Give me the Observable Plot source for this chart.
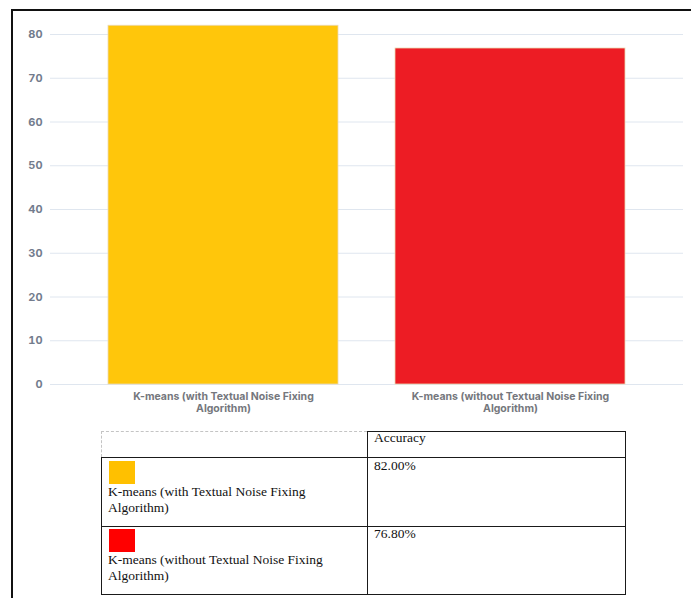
<!DOCTYPE html>
<html><head><meta charset="utf-8">
<script src="https://cdn.jsdelivr.net/npm/d3@7"></script>
<script src="https://cdn.jsdelivr.net/npm/@observablehq/plot@0.6"></script>
<style>
html,body{margin:0;padding:0;background:#fff;}
#wrap{position:relative;width:691px;height:598px;overflow:hidden;background:#fff;}
#wrap svg{position:absolute;left:0;top:0;}
#frame{position:absolute;left:11px;top:9px;width:700px;height:700px;border-top:2px solid #111;border-left:2px solid #111;pointer-events:none;}
.t{position:absolute;font-family:"Liberation Serif","Times New Roman",serif;font-size:13.5px;line-height:16.5px;color:#111;white-space:normal;}
.ln{position:absolute;background:#1a1a1a;}
.sw{position:absolute;width:26px;height:23px;}
</style></head><body><div id="wrap"></div>
<script>
// ---- data ----
const categories = ["K-means (with Textual Noise Fixing Algorithm)", "K-means (without Textual Noise Fixing Algorithm)"];
const accuracy = [82.0, 76.8];
const barColors = ["#FFC60B", "#ED1C24"];
const legendColors = ["#FFC000", "#FF0000"];
const yTicks = [0, 10, 20, 30, 40, 50, 60, 70, 80];
const tableHeader = "Accuracy";
const accuracyLabels = ["82.00%", "76.80%"];

const data = categories.map((c, i) => ({category: c, value: accuracy[i]}));

const chart = Plot.plot({
  width: 691, height: 420,
  marginLeft: 50, marginRight: 8, marginTop: 34, marginBottom: 36,
  style: {background: "transparent", fontFamily: "Inter, Roboto, sans-serif"},
  x: {domain: categories, padding: 0.2, label: null},
  y: {domain: [0, 80], label: null},
  color: {domain: categories, range: barColors},
  marks: [
    Plot.ruleY(yTicks, {stroke: "#dfe6ef", strokeOpacity: 1, strokeWidth: 1}),
    Plot.barY(data, {x: "category", y: "value", fill: "category", stroke: "#ead9b4", strokeWidth: 0.8}),
    Plot.axisY({ticks: yTicks, tickSize: 0, tickPadding: 8, fontSize: 11, fontWeight: 700, fill: "#737c8d"}),
    Plot.axisX({tickSize: 0, tickPadding: 7, fontSize: 10.5, fontWeight: 700, fill: "#75777d", lineHeight: 1.12,
      tickFormat: d => d.replace(" Algorithm)", "\nAlgorithm)")})
  ]
});
const wrap = document.getElementById("wrap");
wrap.appendChild(chart);
const frame = document.createElement("div");
frame.id = "frame";
wrap.appendChild(frame);

// ---- table (legend) ----
const colX = [101, 367, 625];
const rowY = [431, 457, 526, 594];
function line(x, y, w, h, style) {
  const d = document.createElement("div");
  d.className = "ln";
  Object.assign(d.style, {left: x + "px", top: y + "px", width: w + "px", height: h + "px"}, style || {});
  wrap.appendChild(d);
}
// dashed top-left cell edges
line(colX[0], rowY[0], colX[1] - colX[0], 0, {background: "none", borderTop: "1px dashed #c4c4c4"});
line(colX[0], rowY[0], 0, rowY[1] - rowY[0], {background: "none", borderLeft: "1px dashed #c4c4c4"});
// solid lines
line(colX[1], rowY[0], colX[2] - colX[1] + 1, 1);
for (let r = 1; r < rowY.length; r++) line(colX[0], rowY[r], colX[2] - colX[0] + 1, 1);
line(colX[0], rowY[1], 1, rowY[3] - rowY[1]);
line(colX[1], rowY[0], 1, rowY[3] - rowY[0]);
line(colX[2], rowY[0], 1, rowY[3] - rowY[0] + 1);

function text(x, y, s, w) {
  const d = document.createElement("div");
  d.className = "t";
  d.textContent = s;
  Object.assign(d.style, {left: x + "px", top: y + "px"});
  if (w) d.style.width = w + "px";
  wrap.appendChild(d);
}
text(colX[1] + 7, rowY[0] - 1, tableHeader);
const swOff = [4, 3], labOff = [26.5, 25.5], valOff = [1, 0];
categories.forEach((c, i) => {
  const top = rowY[i + 1];
  const sw = document.createElement("div");
  sw.className = "sw";
  Object.assign(sw.style, {left: (colX[0] + 8) + "px", top: (top + swOff[i]) + "px", background: legendColors[i]});
  wrap.appendChild(sw);
  text(colX[0] + 7, top + labOff[i], c, 225);
  text(colX[1] + 7, top + valOff[i], accuracyLabels[i]);
});
</script></body></html>
